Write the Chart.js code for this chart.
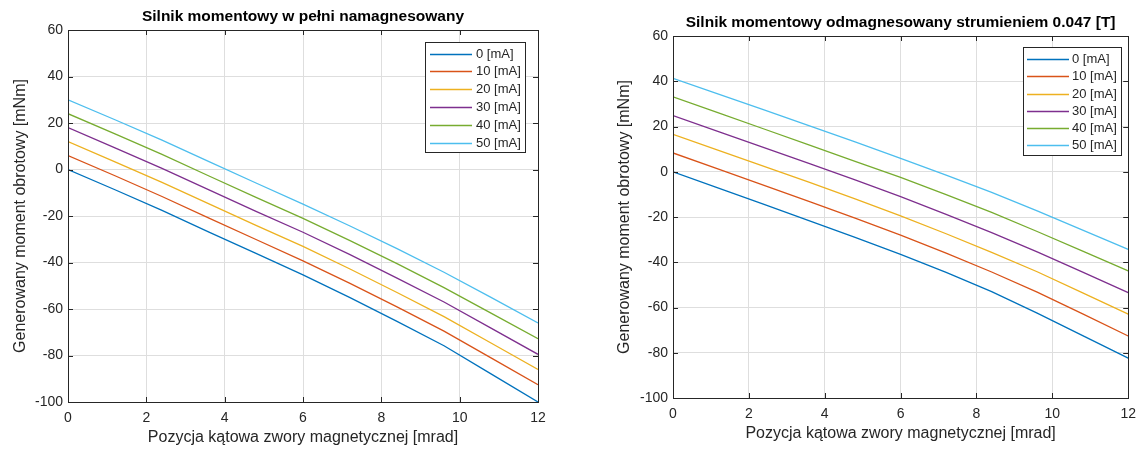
<!DOCTYPE html>
<html lang="pl">
<head>
<meta charset="utf-8">
<title>Silnik momentowy</title>
<script src="https://cdn.jsdelivr.net/npm/chart.js@4.4.1/dist/chart.umd.min.js"></script>
<style>
    html, body { margin: 0; padding: 0; background: #fff; }
    #wrap { position: relative; width: 1144px; height: 451px; overflow: hidden; }
    canvas { position: absolute; top: 0; }
    #leftChart { left: 0; }
    #rightChart { left: 580px; }
</style>
</head>
<body>
<div id="wrap">
    <canvas id="leftChart" width="580" height="451"></canvas>
    <canvas id="rightChart" width="564" height="451"></canvas>
</div>
<script>
// Armature angle [mrad]
const angle = [0, 1.2, 2.4, 3.6, 4.8, 6, 7.2, 8.4, 9.6, 10.8, 12];
const currentLabels = ['0 [mA]', '10 [mA]', '20 [mA]', '30 [mA]', '40 [mA]', '50 [mA]'];

const xTickValues = [0, 2, 4, 6, 8, 10, 12];
const yTickValues = [-100, -80, -60, -40, -20, 0, 20, 40, 60];

// Torque [mNm], fully magnetised motor
const fullMag0  = [0, -8.7, -17.6, -26.9, -36.1, -45.3, -55.1, -65.3, -75.8, -87.9, -100];
const fullMag10 = [6, -2.7, -11.6, -20.9, -30.1, -39.3, -49, -59.1, -69.5, -81, -92.6];
const fullMag20 = [12, 3.3, -5.5, -14.8, -24, -33.1, -42.8, -52.9, -63.3, -74.6, -86];
const fullMag30 = [18, 9.3, 0.5, -8.8, -18, -27, -36.6, -46.7, -57, -68.2, -79.5];
const fullMag40 = [24, 15.3, 6.5, -2.8, -12, -21, -30.6, -40.5, -50.8, -61.8, -72.8];
const fullMag50 = [30, 21.4, 12.6, 3.4, -5.8, -14.9, -24.3, -34, -44.2, -55, -66];

// Torque [mNm], motor demagnetised by 0.047 T
const demag0  = [0, -7.2, -14.4, -21.7, -29, -36.5, -44.5, -53, -62.5, -72.4, -82.4];
const demag10 = [8.3, 1.2, -6, -13.2, -20.5, -28, -36, -44.3, -53.2, -62.8, -72.6];
const demag20 = [16.5, 9.4, 2.4, -4.7, -12, -19.5, -27.4, -35.6, -44.2, -53.5, -62.9];
const demag30 = [24.8, 17.7, 10.7, 3.6, -3.6, -11, -18.8, -26.9, -35.4, -44.4, -53.4];
const demag40 = [33.1, 26, 18.9, 11.8, 4.6, -2.5, -10.1, -18, -26.4, -35.1, -43.8];
const demag50 = [41.3, 34.3, 27.3, 20.3, 13.2, 5.9, -1.5, -9.1, -17.3, -25.8, -34.3];

const lineColors = ['#0072BD', '#D95319', '#EDB120', '#7E2F8E', '#77AC30', '#4DBEEE'];
const axisColor = '#262626';
const gridColor = '#dedede';
const fontFamily = "'Liberation Sans', Arial, Helvetica, sans-serif";

// Axes box with inward ticks, title and in-axes legend
const matlabFrame = {
    id: 'matlabFrame',
    afterDatasetsDraw(chart, args, opts) {
        const { ctx, chartArea: a, scales: { x, y } } = chart;
        const tickLen = 5;
        ctx.save();
        ctx.strokeStyle = axisColor;
        ctx.lineWidth = 1;
        ctx.beginPath();
        xTickValues.forEach(v => {
            const px = Math.round(x.getPixelForValue(v)) + 0.5;
            ctx.moveTo(px, a.bottom);
            ctx.lineTo(px, a.bottom - tickLen);
            ctx.moveTo(px, a.top);
            ctx.lineTo(px, a.top + tickLen);
        });
        yTickValues.forEach(v => {
            const py = Math.round(y.getPixelForValue(v)) + 0.5;
            ctx.moveTo(a.left, py);
            ctx.lineTo(a.left + tickLen, py);
            ctx.moveTo(a.right, py);
            ctx.lineTo(a.right - tickLen, py);
        });
        ctx.stroke();
        ctx.strokeRect(Math.round(a.left) + 0.5, Math.round(a.top) + 0.5,
            Math.round(a.right - a.left), Math.round(a.bottom - a.top));

        // legend
        const lg = opts.legend;
        ctx.fillStyle = '#fff';
        ctx.fillRect(lg.x, lg.y, lg.w, lg.h);
        ctx.strokeStyle = axisColor;
        ctx.strokeRect(lg.x + 0.5, lg.y + 0.5, lg.w, lg.h);
        ctx.font = '13px ' + fontFamily;
        ctx.textAlign = 'left';
        ctx.textBaseline = 'middle';
        chart.data.datasets.forEach((ds, i) => {
            const ry = Math.round(lg.rowTop + i * lg.rowStep) + 0.5;
            ctx.strokeStyle = ds.borderColor;
            ctx.lineWidth = 1.3;
            ctx.beginPath();
            ctx.moveTo(lg.lineFrom, ry);
            ctx.lineTo(lg.lineTo, ry);
            ctx.stroke();
            ctx.fillStyle = axisColor;
            ctx.fillText(ds.label, lg.textX, ry);
        });
        ctx.restore();
    },
    afterDraw(chart, args, opts) {
        const { ctx, chartArea: a } = chart;
        ctx.save();
        ctx.font = 'bold 15.5px ' + fontFamily;
        ctx.fillStyle = '#000';
        ctx.textAlign = 'center';
        ctx.textBaseline = 'middle';
        ctx.fillText(opts.title, (a.left + a.right) / 2, opts.titleY);
        ctx.restore();
    }
};

function makeChart(canvasId, title, series, box) {
    const datasets = series.map((s, i) => ({
        label: currentLabels[i],
        data: angle.map((a, j) => ({ x: a, y: s[j] })),
        borderColor: lineColors[i],
        borderWidth: 1.3,
        pointRadius: 0,
        tension: 0,
        fill: false
    }));

    return new Chart(document.getElementById(canvasId), {
        type: 'line',
        data: { datasets },
        plugins: [matlabFrame],
        options: {
            responsive: false,
            animation: false,
            events: [],
            layout: { padding: { top: box.top, right: box.right, left: 0, bottom: 0 } },
            plugins: {
                legend: { display: false },
                tooltip: { enabled: false },
                title: { display: false },
                matlabFrame: { title, titleY: box.titleY, legend: box.legend }
            },
            scales: {
                x: {
                    type: 'linear',
                    min: 0,
                    max: 12,
                    afterBuildTicks: scale => { scale.ticks = xTickValues.map(v => ({ value: v })); },
                    afterFit: scale => { scale.height = box.xHeight; },
                    grid: { color: gridColor, drawTicks: false },
                    border: { display: false },
                    ticks: {
                        padding: box.xTickPad,
                        maxRotation: 0,
                        color: axisColor,
                        font: { family: fontFamily, size: 14 }
                    },
                    title: {
                        display: true,
                        text: 'Pozycja kątowa zwory magnetycznej [mrad]',
                        color: axisColor,
                        font: { family: fontFamily, size: 16 },
                        padding: { top: 0, bottom: box.xTitlePad }
                    }
                },
                y: {
                    type: 'linear',
                    min: -100,
                    max: 60,
                    afterBuildTicks: scale => { scale.ticks = yTickValues.map(v => ({ value: v })); },
                    afterFit: scale => { scale.width = box.yWidth; },
                    grid: { color: gridColor, drawTicks: false },
                    border: { display: false },
                    ticks: {
                        padding: 5,
                        color: axisColor,
                        font: { family: fontFamily, size: 14 }
                    },
                    title: {
                        display: true,
                        text: 'Generowany moment obrotowy [mNm]',
                        color: axisColor,
                        font: { family: fontFamily, size: 16 },
                        padding: { top: box.yTitlePad, bottom: 0 }
                    }
                }
            }
        }
    });
}

makeChart('leftChart', 'Silnik momentowy w pełni namagnesowany',
    [fullMag0, fullMag10, fullMag20, fullMag30, fullMag40, fullMag50],
    {
        top: 30, right: 42, yWidth: 68, xHeight: 49,
        xTickPad: 8, xTitlePad: 4, yTitlePad: 11, titleY: 17,
        legend: { x: 425, y: 42, w: 100, h: 110, rowTop: 53.5, rowStep: 17.9, lineFrom: 430, lineTo: 472, textX: 476 }
    });

makeChart('rightChart', 'Silnik momentowy odmagnesowany strumieniem 0.047 [T]',
    [demag0, demag10, demag20, demag30, demag40, demag50],
    {
        top: 36, right: 12, yWidth: 93, xHeight: 53,
        xTickPad: 8, xTitlePad: 8, yTitlePad: 35, titleY: 23,
        legend: { x: 443, y: 47, w: 98, h: 108, rowTop: 59.3, rowStep: 17.1, lineFrom: 447, lineTo: 489, textX: 492 }
    });
</script>
</body>
</html>
